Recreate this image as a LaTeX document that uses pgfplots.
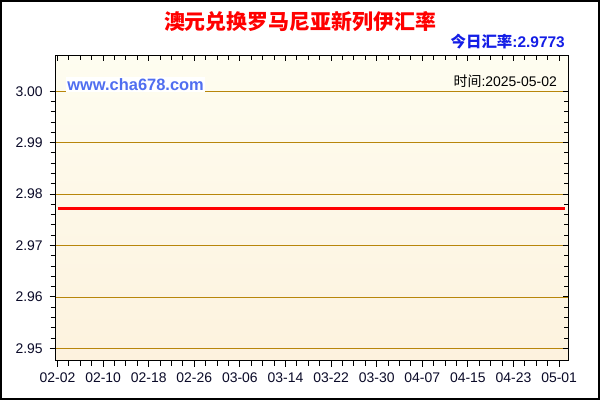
\documentclass[border=0pt]{standalone}
\usepackage{fontspec}
\setmainfont{Liberation Sans}
\newfontfamily\cjk{Noto Sans CJK SC}
\usepackage{pgfplots}
\pgfplotsset{compat=1.18}
\definecolor{gridgold}{RGB}{184,134,11}
\definecolor{bgtop}{RGB}{254,253,240}
\definecolor{bgbot}{RGB}{253,242,222}
\definecolor{siteblue}{RGB}{80,110,240}
\definecolor{rateblue}{RGB}{20,30,230}
\definecolor{tickc}{RGB}{10,10,40}

\begin{document}
\begin{tikzpicture}[x=1bp,y=1bp]
\path[fill=white] (0,0) rectangle (600,400);
\draw[line width=2bp] (1,1) rectangle (599,399);

% main axis: left and bottom ticks outside, with labels
\begin{axis}[
  at={(55.7bp,39.3bp)}, anchor=south west,
  scale only axis, width=512.8bp, height=305.4bp,
  xmin=-0.32, xmax=89.65, ymin=2.9476, ymax=3.0070,
  axis background/.style={top color=bgtop, bottom color=bgbot},
  axis line style={line width=1.2bp},
  xtick={0,8,...,88},
  xticklabels={02-02,02-10,02-18,02-26,03-06,03-14,03-22,03-30,04-07,04-15,04-23,05-01},
  minor x tick num=3,
  ytick={2.95,2.96,2.97,2.98,2.99,3.00},
  minor y tick num=4,
  ymajorgrids,
  major grid style={gridgold, line width=0.9bp},
  tick align=outside,
  xtick pos=left, ytick pos=left,
  major tick length=6bp, minor tick length=5bp,
  tick style={black, line width=1bp},
  ticklabel style={font=\fontsize{14}{15}\selectfont, text=tickc},
  yticklabel style={xshift=-3.5bp, /pgf/number format/fixed, /pgf/number format/precision=2,
    /pgf/number format/fixed zerofill},
  xticklabel style={yshift=-3bp},
  /pgf/number format/assume math mode=true,
]
\addplot[red, line width=3bp] coordinates {(0,2.9773) (89,2.9773)};
\end{axis}

% mirror axis: top and right ticks inside, no labels
\begin{axis}[
  at={(55.7bp,39.3bp)}, anchor=south west,
  scale only axis, width=512.8bp, height=305.4bp,
  xmin=-0.32, xmax=89.65, ymin=2.9476, ymax=3.0070,
  axis line style={line width=1.2bp},
  xtick={0,8,...,88}, minor x tick num=3,
  ytick={2.95,2.96,2.97,2.98,2.99,3.00}, minor y tick num=4,
  xticklabels={}, yticklabels={},
  tick align=inside,
  xtick pos=right, ytick pos=right,
  major tick length=6bp, minor tick length=5bp,
  tick style={black, line width=1bp},
]
\end{axis}

\node[text=red, font=\cjk\bfseries\fontsize{21}{23}\selectfont] at (300,378) {澳元兑换罗马尼亚新列伊汇率};
\node[anchor=east, text=rateblue, font=\bfseries\fontsize{15.5}{17}\selectfont, inner sep=0pt] at (565,358) {{\cjk\bfseries 今日汇率}:2.9773};
\node[anchor=east, text=black, font=\fontsize{14}{15}\selectfont, inner sep=0pt] at (557,319) {{\cjk 时间}:2025-05-02};
\node[anchor=west, fill=white, text=siteblue, font=\bfseries\fontsize{16.5}{18}\selectfont, inner sep=1.2bp] at (66,315.5) {www.cha678.com};
\end{tikzpicture}
\end{document}
